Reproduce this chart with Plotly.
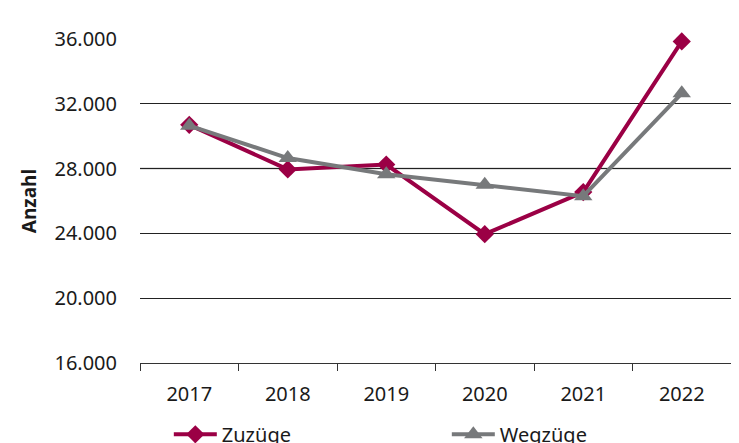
import plotly.graph_objects as go

years = ["2017", "2018", "2019", "2020", "2021", "2022"]
zuzuege = [30700, 27950, 28250, 23950, 26550, 35850]
wegzuege = [30650, 28650, 27650, 27000, 26300, 32650]
y_ticks = [16000, 20000, 24000, 28000, 32000, 36000]
y_tick_labels = ["16.000", "20.000", "24.000", "28.000", "32.000", "36.000"]

font_family = "Noto Sans, Open Sans, sans-serif"
RED = "#9B0045"
GREY = "#77797B"

fig = go.Figure()
fig.add_trace(go.Scatter(
    x=years, y=zuzuege, name="Zuzüge", mode="lines+markers", cliponaxis=False,
    line=dict(color=RED, width=4),
    marker=dict(symbol="diamond", size=14, color=RED),
))
fig.add_trace(go.Scatter(
    x=years, y=wegzuege, name="Wegzüge", mode="lines+markers", cliponaxis=False,
    line=dict(color=GREY, width=4),
    marker=dict(symbol="triangle-up", size=16, color=GREY),
))

# the 28.000 gridline is drawn lighter in the reference
fig.add_shape(type="line", xref="paper", x0=0, x1=1, yref="y",
              y0=y_ticks[3], y1=y_ticks[3], layer="below",
              line=dict(color="#8a8a8a", width=1.5))

fig.update_layout(
    width=731, height=435,
    margin=dict(l=132, r=8, t=31, b=80),
    paper_bgcolor="white", plot_bgcolor="white",
    font=dict(family=font_family, size=20, color="#1a1a1a"),
    showlegend=True,
    legend=dict(
        orientation="h", xref="container", yref="container",
        x=0.22, xanchor="left", y=0.02, yanchor="middle",
        entrywidth=220, entrywidthmode="pixels", itemwidth=43,
        font=dict(size=20, color="#1a1a1a"),
        bgcolor="rgba(0,0,0,0)",
    ),
)
fig.update_xaxes(
    type="category", showgrid=False, showline=True, linecolor="#333", linewidth=1,
    ticks="outside", tickson="boundaries", ticklen=7, tickcolor="#333",
    tickfont=dict(size=20), range=[-0.5, 5.5], ticklabelstandoff=13,
)
fig.update_yaxes(
    range=[16000, 36000], tickvals=y_ticks, ticktext=y_tick_labels,
    showgrid=True, gridcolor="#222", gridwidth=1, zeroline=False,
    showline=False, ticks="", ticklabelstandoff=22,
    tickfont=dict(size=20),
    title=dict(text="<b>Anzahl</b>", font=dict(size=19), standoff=12),
)

fig.write_html("out.html")
